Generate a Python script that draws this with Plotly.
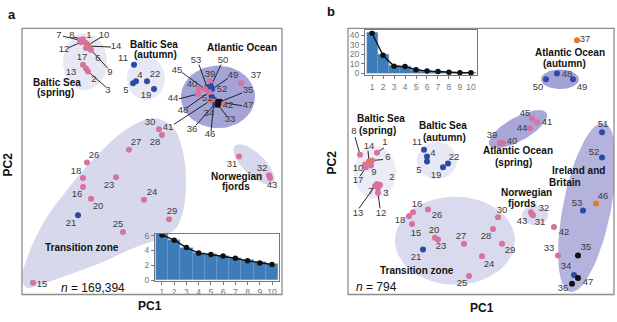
import math
import plotly.graph_objects as go

W, H = 617, 322
FONT = "Liberation Sans, Arial, Helvetica, sans-serif"
COLORS = {"p": "#d5729e", "b": "#2a4aa6", "o": "#e37a2a", "k": "#111111"}

# ---------------- Panel a : PCA of 169,394 SNPs ----------------
a_ids = ["7", "8", "1", "10", "12", "14", "6", "17", "9", "13", "2", "3",
         "11", "4", "5", "22", "19",
         "39", "40", "53", "50", "45", "49", "52", "44", "48", "51", "41", "36", "46",
         "34", "33", "35", "42", "47", "37",
         "30", "28", "27", "26", "18", "23", "16", "20", "24", "21", "29", "25", "15",
         "31", "32", "43"]
a_pc1 = [80, 83, 86, 88, 81, 88, 90, 86, 91, 83, 86, 88,
         134, 136, 133, 147, 154,
         210, 199, 207, 211, 205, 212, 212, 198, 209, 214, 210, 216, 214,
         215, 218, 220, 224, 218, 241,
         159, 162, 129, 87, 83, 116, 83, 91, 144, 78, 169, 123, 33,
         239, 269, 270]
a_pc2 = [38, 37, 41, 43, 40, 44, 47, 46, 48, 63, 67, 70,
         63, 80, 82, 80, 88,
         80, 88, 86, 85, 88, 88, 96, 93, 91, 99, 100, 102, 101,
         104, 104, 101, 103, 101, 82,
         129, 135, 150, 163, 179, 178, 188, 200, 201, 217, 221, 234, 286,
         157, 176, 179]
a_grp = ["p", "p", "p", "p", "p", "o", "p", "p", "p", "p", "p", "p",
         "b", "b", "b", "b", "b",
         "p", "p", "b", "b", "p", "b", "b", "p", "p", "b", "p", "b", "o",
         "b", "k", "k", "p", "k", "p",
         "p", "p", "p", "p", "p", "p", "p", "p", "p", "b", "p", "p", "p",
         "p", "p", "p"]
a_lab_x = [59, 72, 89, 104, 64, 116, 98, 82, 110, 71, 94, 108,
           123, 140, 126, 155, 146,
           210, 192, 196, 223, 177, 233, 222, 173, 183, 207, 168, 192, 210,
           209, 230, 248, 228, 248, 256,
           150, 155, 136, 94, 76, 109, 77, 98, 152, 71, 172, 118, 42,
           232, 262, 272]
a_lab_y = [33, 33, 33, 33, 48, 45, 57, 56, 71, 71, 78, 90,
           57, 74, 90, 73, 95,
           73, 83, 59, 59, 69, 74, 89, 98, 110, 98, 127, 129, 135,
           113, 119, 90, 105, 105, 74,
           122, 143, 143, 156, 172, 187, 196, 208, 194, 226, 213, 227, 288,
           165, 169, 187]
# leader lines: label id -> start of line near the label
a_leaders = {"7": (63, 34), "8": (74, 35), "10": (101, 35), "12": (68, 46), "14": (111, 45),
             "9": (108, 67), "3": (106, 86), "53": (199, 63), "50": (221, 63), "45": (182, 71),
             "49": (228, 77), "44": (179, 98), "48": (187, 107), "41": (174, 124), "36": (196, 125),
             "46": (211, 131), "33": (227, 116), "35": (242, 92), "47": (242, 105)}

# regions panel a: (cx, cy, rx, ry, angle, colour)
a_regions = [(85, 60, 22, 29, 0, "#e8e8f4"),
             (146, 77, 19, 22, 0, "#e8e8f4"),
             (218, 96, 37, 32, 0, "#a4a4d6"),
             (254, 165, 27, 11, 45, "#d8d8ed")]
a_transition = [(150, 118), (163, 120), (174, 128), (182, 148), (186, 178), (184, 208), (176, 230),
                (160, 240), (130, 252), (100, 266), (68, 278), (40, 288), (27, 291), (22, 283),
                (28, 258), (45, 222), (68, 190), (95, 158), (125, 130)]
a_titles = [("Baltic Sea", 57, 81), ("(spring)", 55, 91), ("Baltic Sea", 154, 42), ("(autumn)", 155, 53),
            ("Atlantic Ocean", 242, 45), ("Norwegian", 236, 177), ("fjords", 236, 188),
            ("Transition zone", 82, 250)]

# ---------------- Panel b : PCA of 794 outlier SNPs ----------------
b_ids = ["8", "1", "14", "6", "10", "9", "17", "2", "7", "3", "13", "12",
         "11", "4", "5", "22", "19",
         "37", "48", "50", "49",
         "45", "41", "44", "39", "40",
         "51", "52", "46", "53", "42", "33", "35", "34", "47", "36",
         "32", "43", "31",
         "16", "26", "18", "15", "20", "23", "27", "28", "30", "29", "21", "24", "25"]
b_pc1 = [360, 377, 369, 372, 365, 371, 366, 380, 377, 378, 375, 378,
         424, 427, 427, 448, 443,
         577, 557, 546, 573,
         532, 537, 530, 500, 503,
         602, 602, 596, 583, 554, 558, 578, 574, 578, 572,
         531, 533, 532,
         413, 428, 409, 412, 435, 438, 464, 493, 498, 502, 423, 482, 469]
b_pc2 = [155, 153, 162, 161, 165, 166, 168, 186, 185, 189, 187, 194,
         150, 157, 162, 164, 168,
         38, 72, 78, 78,
         118, 122, 128, 143, 143,
         132, 158, 205, 212, 229, 258, 258, 278, 281, 287,
         214, 217, 216,
         214, 211, 218, 226, 240, 242, 246, 231, 219, 246, 252, 259, 279]
b_grp = ["p", "p", "o", "p", "p", "p", "p", "p", "p", "p", "p", "p",
         "b", "b", "b", "b", "b",
         "o", "b", "b", "b",
         "p", "p", "p", "p", "p",
         "b", "b", "o", "b", "p", "p", "k", "b", "k", "k",
         "p", "p", "p",
         "p", "p", "p", "p", "p", "p", "p", "p", "p", "p", "b", "p", "p"]
b_lab_x = [354, 385, 369, 388, 358, 374, 358, 392, 371, 386, 358, 381,
           417, 433, 419, 454, 436,
           585, 567, 538, 582,
           525, 547, 522, 492, 512,
           603, 594, 603, 577, 564, 549, 586, 566, 588, 563,
           544, 522, 540,
           417, 437, 400, 416, 434, 441, 461, 486, 502, 510, 416, 489, 462]
b_lab_y = [132, 143, 147, 158, 169, 173, 182, 179, 193, 195, 215, 215,
           143, 154, 171, 158, 176,
           37, 73, 87, 87,
           113, 122, 128, 136, 142,
           124, 153, 198, 205, 235, 251, 250, 270, 286, 292,
           210, 223, 225,
           206, 217, 222, 236, 233, 249, 239, 239, 212, 253, 260, 267, 287]
b_leaders = {"8": (355, 137), "1": (384, 148), "14": (368, 151), "6": (383, 160),
             "17": (360, 177), "13": (359, 210), "12": (380, 210)}

b_regions = [(375, 173, 21, 27, 0, "#ececf6"),
             (437, 161, 20, 19, 0, "#e8e8f4"),
             (455, 243, 60, 45, 0, "#dadaee"),
             (535, 217, 13, 10, 0, "#dadaee"),
             (560, 78, 19, 10, 0, "#a2a2d5"),
             (518, 129, 33, 12, -30, "#a8a8d8"),
             (587, 209, 24, 88, 11, "#b3b3de")]
b_titles = [("Baltic Sea", 381, 118), ("(spring)", 378, 130), ("Baltic Sea", 443, 125), ("(autumn)", 445, 137),
            ("Atlantic Ocean", 570, 51), ("(autumn)", 564, 62), ("Atlantic Ocean", 518, 151),
            ("(spring)", 513, 163), ("Ireland and", 578, 171), ("Britain", 565, 183),
            ("Norwegian", 526, 194), ("fjords", 522, 205), ("Transition zone", 417, 273)]

# ---------------- Insets: variance explained ----------------
pcs = [1, 2, 3, 4, 5, 6, 7, 8, 9, 10]
a_var_bar = [6.2, 5.5, 4.3, 3.7, 3.5, 3.3, 3.0, 2.7, 2.4, 2.2]
a_var_line = [6.1, 5.4, 4.4, 3.65, 3.45, 3.25, 2.95, 2.6, 2.3, 2.1]
b_var_bar = [43, 19.5, 8, 7.5, 4.5, 3, 2.2, 1.5, 1.0, 0.8]
b_var_line = [42, 19, 7.5, 7.3, 4, 2.5, 2, 1.2, 0.8, 0.7]

# ---------------- geometry helpers (pixel space) ----------------
def px_x(p):
    return p / W

def px_y(p):
    return 1 - p / H

def ellipse(cx, cy, rx, ry, ang, n=72):
    a = math.radians(ang)
    xs, ys = [], []
    for i in range(n + 1):
        t = 2 * math.pi * i / n
        ex, ey = rx * math.cos(t), ry * math.sin(t)
        xs.append(cx + ex * math.cos(a) - ey * math.sin(a))
        ys.append(cy + ex * math.sin(a) + ey * math.cos(a))
    return xs, ys

fig = go.Figure()

def add_panel(xa, ya, regions, blob, ids, pc1, pc2, grp, lx, ly, leaders):
    for (cx, cy, rx, ry, ang, col) in regions:
        xs, ys = ellipse(cx, cy, rx, ry, ang)
        fig.add_trace(go.Scatter(x=xs, y=ys, mode="lines", fill="toself", fillcolor=col,
                                 line=dict(width=0), hoverinfo="skip", showlegend=False,
                                 xaxis=xa, yaxis=ya))
    if blob:
        bx = [p[0] for p in blob] + [blob[0][0]]
        by = [p[1] for p in blob] + [blob[0][1]]
        fig.add_trace(go.Scatter(x=bx, y=by, mode="lines", fill="toself", fillcolor="#d8d8ed",
                                 line=dict(width=0, shape="spline", smoothing=1.0),
                                 hoverinfo="skip", showlegend=False, xaxis=xa, yaxis=ya))
    lxs, lys = [], []
    for k, (sx, sy) in leaders.items():
        i = ids.index(k)
        lxs += [sx, pc1[i], None]
        lys += [sy, pc2[i], None]
    fig.add_trace(go.Scatter(x=lxs, y=lys, mode="lines", line=dict(color="#111111", width=0.9),
                             hoverinfo="skip", showlegend=False, xaxis=xa, yaxis=ya))
    fig.add_trace(go.Scatter(x=pc1, y=pc2, mode="markers",
                             marker=dict(size=6, color=[COLORS[g] for g in grp], line=dict(width=0)),
                             showlegend=False, xaxis=xa, yaxis=ya))
    fig.add_trace(go.Scatter(x=lx, y=ly, mode="text", text=ids, textposition="middle center",
                             textfont=dict(family=FONT, size=9.5, color="#3a3a3a"),
                             hoverinfo="skip", showlegend=False, xaxis=xa, yaxis=ya))

add_panel("x", "y", a_regions, a_transition, a_ids, a_pc1, a_pc2, a_grp, a_lab_x, a_lab_y, a_leaders)
add_panel("x2", "y2", b_regions, None, b_ids, b_pc1, b_pc2, b_grp, b_lab_x, b_lab_y, b_leaders)

# inset traces
def add_inset(xa, ya, xr, yr, bars, line):
    # white background of the inset (a bar spanning the whole inset range)
    fig.add_trace(go.Bar(x=[(xr[0] + xr[1]) / 2], y=[yr[1] - yr[0]], base=[yr[0]], width=[xr[1] - xr[0]],
                         marker=dict(color="white", line=dict(width=0)), hoverinfo="skip",
                         showlegend=False, xaxis=xa, yaxis=ya))
    fig.add_trace(go.Bar(x=pcs, y=bars, width=1.0,
                         marker=dict(color="#3d7cb9", line=dict(color="#79a5d2", width=0.4)),
                         showlegend=False, xaxis=xa, yaxis=ya))
    fig.add_trace(go.Scatter(x=pcs, y=line, mode="lines+markers", line=dict(color="#111111", width=1.4),
                             marker=dict(size=5.5, color="#111111"), showlegend=False, xaxis=xa, yaxis=ya))

a_in_xr, a_in_yr = [0.43, 10.57], [-0.1, 6.25]
b_in_xr, b_in_yr = [0.36, 10.55], [-2, 45]
add_inset("x3", "y3", a_in_xr, a_in_yr, a_var_bar, a_var_line)
add_inset("x4", "y4", b_in_xr, b_in_yr, b_var_bar, b_var_line)

frame = dict(showline=False, showgrid=False, zeroline=False, showticklabels=False, ticks="")
inset_ax = dict(showline=True, mirror=True, linecolor="#777777", linewidth=1, showgrid=False,
                zeroline=False, ticks="outside", ticklen=3, tickcolor="#777777",
                tickfont=dict(family=FONT, size=8.5, color="#777777"))

fig.update_layout(
    width=W, height=H, margin=dict(l=0, r=0, t=0, b=0),
    paper_bgcolor="white", plot_bgcolor="white", barmode="overlay", bargap=0,
    xaxis=dict(domain=[px_x(22), px_x(282)], range=[22, 282], anchor="y", **frame),
    yaxis=dict(domain=[px_y(298), px_y(26)], range=[298, 26], anchor="x", **frame),
    xaxis2=dict(domain=[px_x(348), px_x(614)], range=[348, 614], anchor="y2", **frame),
    yaxis2=dict(domain=[px_y(298), px_y(26)], range=[298, 26], anchor="x2", **frame),
    xaxis3=dict(domain=[px_x(155), px_x(279)], range=a_in_xr, tickvals=pcs, anchor="y3", **inset_ax),
    yaxis3=dict(domain=[px_y(284), px_y(236)], range=a_in_yr, tickvals=[0, 2, 4, 6], anchor="x3", **inset_ax),
    xaxis4=dict(domain=[px_x(365), px_x(477)], range=b_in_xr, tickvals=pcs, anchor="y4", **inset_ax),
    yaxis4=dict(domain=[px_y(74), px_y(28)], range=b_in_yr, tickvals=[0, 10, 20, 30, 40], anchor="x4", **inset_ax),
)

# panel frames
shapes = []
for (x0, x1) in ((22, 282), (348, 614)):
    shapes.append(dict(type="rect", xref="paper", yref="paper", x0=px_x(x0), x1=px_x(x1),
                       y0=px_y(298), y1=px_y(26), line=dict(color="#8c8c8c", width=1.3),
                       fillcolor="rgba(0,0,0,0)", layer="above"))
fig.update_layout(shapes=shapes)

ann = []
def title_ann(txt, x, y, xref, yref):
    ann.append(dict(text="<b>%s</b>" % txt, x=x, y=y, xref=xref, yref=yref, showarrow=False,
                    xanchor="center", yanchor="middle", font=dict(family=FONT, size=10, color="#111111")))

for t, x, y in a_titles:
    title_ann(t, x, y, "x", "y")
for t, x, y in b_titles:
    title_ann(t, x, y, "x2", "y2")

def paper_ann(txt, x, y, size, angle=0):
    ann.append(dict(text=txt, x=px_x(x), y=px_y(y), xref="paper", yref="paper", textangle=angle,
                    xanchor="center", yanchor="middle", showarrow=False,
                    font=dict(family=FONT, size=size, color="#111111")))

paper_ann("<i>n</i> = 169,394", 93, 291, 12)
paper_ann("<i>n</i> = 794", 376, 290, 12)
paper_ann("<b>a</b>", 12, 12, 13)
paper_ann("<b>b</b>", 331, 9, 13)
paper_ann("<b>PC1</b>", 150, 310, 12)
paper_ann("<b>PC1</b>", 482, 312, 12)
paper_ann("<b>PC2</b>", 8, 165, 12, -90)
paper_ann("<b>PC2</b>", 332, 163, 12, -90)
fig.update_layout(annotations=ann)

fig.write_html("out.html", config={"displayModeBar": False},
               post_script="document.body.style.margin='0px';")
